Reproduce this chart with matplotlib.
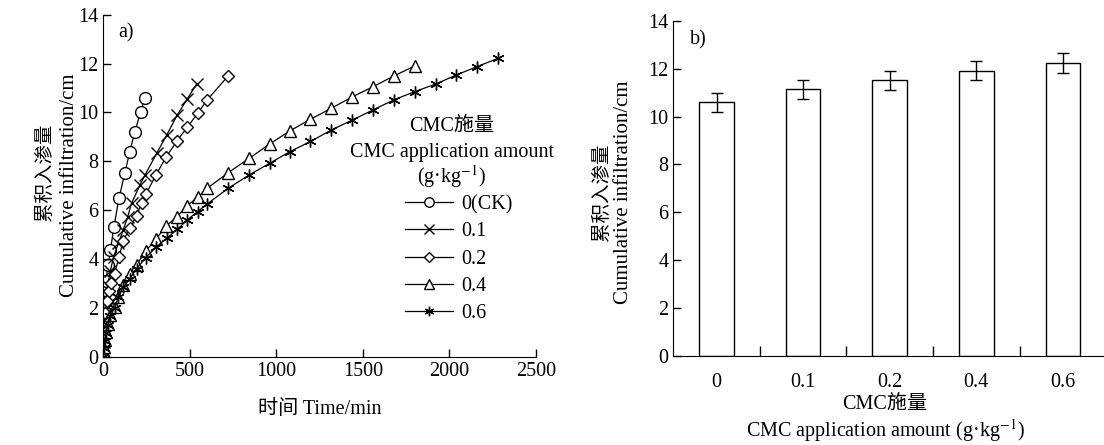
import numpy as np
import matplotlib.pyplot as plt
from matplotlib.ticker import FixedLocator

plt.rcParams['font.family'] = ['Liberation Serif', 'Noto Sans CJK SC']
plt.rcParams['mathtext.fontset'] = 'stix'
plt.rcParams['font.size'] = 14

# a) cumulative infiltration vs time
t_ck = [0, 1, 2, 3, 4, 6, 8, 14, 28, 41, 61, 91, 124, 153, 182, 215, 240]
i_ck = [0, 0.5, 0.9, 1.3, 1.7, 2.2, 2.7, 3.1, 3.75, 4.35, 5.3, 6.5, 7.5, 8.4, 9.2, 10.0, 10.6]

t_01 = [0, 2, 4, 6, 10, 15, 25, 40, 60, 87, 115, 140, 163, 212, 241, 308, 366, 427, 485, 539]
i_01 = [0, 0.6, 1.0, 1.4, 1.9, 2.4, 2.9, 3.5, 4.1, 4.64, 5.19, 5.7, 6.28, 7.03, 7.44, 8.32,
        9.07, 9.89, 10.55, 11.16]

t_02 = [0, 2, 4, 7, 12, 20, 32, 45, 65, 92, 115, 154, 192, 221, 246, 304, 362, 423, 485,
        545, 600, 721]
i_02 = [0, 0.5, 0.9, 1.3, 1.8, 2.3, 2.7, 3.0, 3.4, 4.1, 4.75, 5.26, 5.77, 6.28, 6.65, 7.44,
        8.16, 8.81, 9.39, 9.96, 10.51, 11.49]

t_04 = [0, 3, 8, 15, 25, 40, 65, 87, 115, 154, 192, 246, 304, 362, 427, 481, 545, 600, 721,
        843, 962, 1077, 1197, 1318, 1439, 1558, 1678, 1799]
i_04 = [0, 0.4, 0.7, 1.0, 1.35, 1.7, 2.04, 2.45, 2.93, 3.38, 3.75, 4.34, 4.8, 5.35, 5.73,
        6.17, 6.52, 6.89, 7.53, 8.12, 8.71, 9.24, 9.72, 10.17, 10.64, 11.05, 11.49, 11.9]

t_06 = [0, 3, 8, 15, 25, 40, 65, 87, 115, 154, 192, 246, 304, 366, 427, 485, 545, 600, 721,
        843, 962, 1077, 1197, 1318, 1439, 1558, 1678, 1799, 1920, 2039, 2158, 2279]
i_06 = [0, 0.35, 0.65, 0.95, 1.3, 1.65, 2.0, 2.45, 2.85, 3.2, 3.6, 4.06, 4.48, 4.85, 5.21,
        5.6, 5.94, 6.25, 6.89, 7.44, 7.92, 8.39, 8.81, 9.28, 9.69, 10.1, 10.51, 10.85, 11.16,
        11.53, 11.87, 12.21]

series_labels = ['0(CK)', '0.1', '0.2', '0.4', '0.6']

# b) final cumulative infiltration
cmc_levels = ['0', '0.1', '0.2', '0.4', '0.6']
final_inf = [10.6, 11.13, 11.51, 11.91, 12.22]
final_err = [0.4, 0.4, 0.4, 0.4, 0.42]

fig = plt.figure(figsize=(11.04, 4.45), dpi=100)
W, H = 1104, 445
ax1 = fig.add_axes([103.3 / W, 1 - 356.7 / H, (536 - 103.3) / W, (356.7 - 14.7) / H])
ax2 = fig.add_axes([673.3 / W, 1 - 356 / H, (1102.7 - 673.3) / W, (356 - 20.7) / H])


def px(x, y):
    # figure pixel (from top-left) -> figure fraction
    return x / W, 1 - y / H


data = [(t_ck, i_ck, 'o'), (t_01, i_01, 'x'), (t_02, i_02, 'D'),
        (t_04, i_04, '^'), (t_06, i_06, (6, 2, 0))]
for (t, y, m), lab in zip(data, series_labels):
    ms = 6.5 if m == 'D' else 8.5
    ax1.plot(t, y, color='black', lw=0.9, marker=m, ms=ms, mfc='white', mec='black',
             mew=1.0, label=lab)

ax1.set_xlim(0, 2500)
ax1.set_ylim(0, 14)
ax1.set_xticks(np.arange(0, 2501, 500))
ax1.set_yticks(np.arange(0, 15, 2))
for s in ['top', 'right']:
    ax1.spines[s].set_visible(False)
ax1.tick_params(direction='in', length=6, width=1, labelsize=14.5)
ax1.set_xlabel('时间 Time/min', fontsize=14.5, labelpad=14)
fig.text(*px(45, 172), '累积入渗量', rotation=90, ha='center', va='center', fontsize=14)
fig.text(*px(70, 185), 'Cumulative infiltration/cm', rotation=90, ha='center',
         va='center', fontsize=15)
ax1.text(0.034, 0.946, 'a)', transform=ax1.transAxes, fontsize=14.5, va='center')

# legend title as separate centred lines
for yy, s in [(126, 'CMC施量'), (152, 'CMC application amount'), (177, '(g·kg$^{-1}$)')]:
    fig.text(*px(452, yy), s, ha='center', va='center', fontsize=14.5)
ax1.legend(frameon=False, loc='upper left', bbox_to_anchor=px(405, 195),
           bbox_transform=fig.transFigure, fontsize=14.5, handlelength=2.4,
           handletextpad=0.4, labelspacing=0.4, borderpad=0, borderaxespad=0,
           markerscale=0.8)

x = np.arange(len(cmc_levels))
ax2.bar(x, final_inf, width=0.4, color='white', edgecolor='black', lw=1.0)
ax2.errorbar(x, final_inf, yerr=final_err, fmt='none', ecolor='black', elinewidth=1,
             capsize=4, capthick=1)
ax2.set_xlim(-0.5, 4.46)
ax2.set_ylim(0, 14)
ax2.set_yticks(np.arange(0, 15, 2))
ax2.set_xticks(x)
ax2.set_xticklabels(cmc_levels)
ax2.xaxis.set_minor_locator(FixedLocator([0.5, 1.5, 2.5, 3.5]))
ax2.tick_params(axis='x', which='major', length=0, pad=12, labelsize=14.5)
ax2.tick_params(axis='x', which='minor', direction='in', length=7, width=1)
ax2.tick_params(axis='y', direction='in', length=6, width=1, labelsize=14.5)
for s in ['top', 'right']:
    ax2.spines[s].set_visible(False)
fig.text(*px(885, 404), 'CMC施量', ha='center', va='center', fontsize=14.5)
fig.text(*px(885, 431), 'CMC application amount (g·kg$^{-1}$)', ha='center', va='center',
         fontsize=14.5)
fig.text(*px(602, 192), '累积入渗量', rotation=90, ha='center', va='center', fontsize=14)
fig.text(*px(623, 192), 'Cumulative infiltration/cm', rotation=90, ha='center',
         va='center', fontsize=15)
ax2.text(0.039, 0.942, 'b)', transform=ax2.transAxes, fontsize=14.5, va='center')

fig.savefig('out.png', dpi=100)
